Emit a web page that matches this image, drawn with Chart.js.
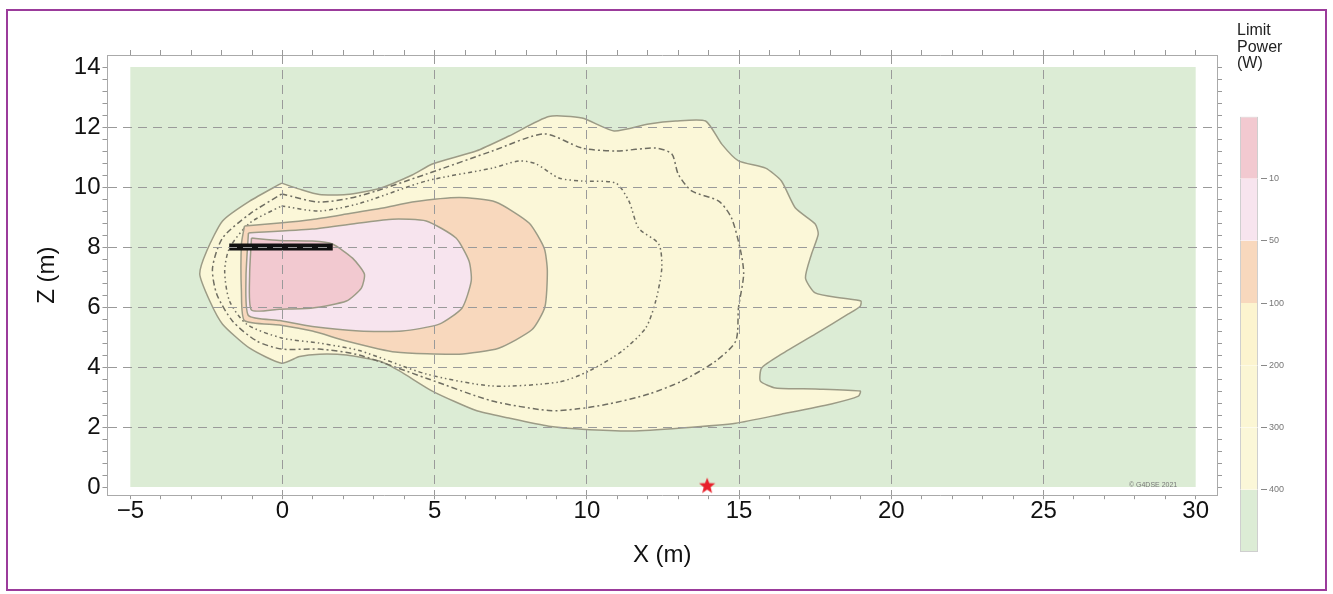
<!DOCTYPE html>
<html>
<head>
<meta charset="utf-8">
<script src="https://cdn.jsdelivr.net/npm/chart.js@4.4.1/dist/chart.umd.min.js"></script>
<style>
  html, body { margin: 0; padding: 0; background: #fff; }
  #wrap { position: relative; width: 1333px; height: 594px; overflow: hidden; }
  #frame { position: absolute; left: 6px; top: 9px; width: 1321px; height: 582px; border: 2px solid #9b3b9b; box-sizing: border-box; }
  #main { position: absolute; left: 0; top: 0; }
  #legend { position: absolute; left: 1227px; top: 10px; }
</style>
</head>
<body>
<div id="wrap">
  <div id="frame"></div>
  <canvas id="main" width="1333" height="594"></canvas>
  <canvas id="legend" width="100" height="570"></canvas>
</div>
<script>
// axis labels
const xLabels = [-5, 0, 5, 10, 15, 20, 25, 30];
const yLabels = [0, 2, 4, 6, 8, 10, 12, 14];
// colour bar levels (W)
const levels = [10, 50, 100, 200, 300, 400];

// computed domain
const field = [[-5, 0], [30, 0], [30, 14], [-5, 14]];

// contour lines, [x, z] in metres
const contour10 = [[-1.02, 8.3], [-0.1, 8.22], [0.98, 8.2], [1.64, 8.1], [2.3, 7.63], [2.69, 7.1], [2.59, 6.63],
  [2.1, 6.2], [0.98, 5.97], [-0.1, 5.93], [-1.02, 5.9], [-1.08, 7.1]];
const contour50 = [[-1.12, 8.47], [0.98, 8.6], [2.52, 8.8], [3.61, 8.93], [4.72, 8.87], [5.7, 8.3], [6.13, 7.53],
  [6.2, 6.87], [5.9, 5.97], [5.15, 5.43], [3.93, 5.2], [2.52, 5.2], [0.98, 5.35], [-0.1, 5.55], [-1.12, 5.72], [-1.2, 7.0]];
const contour100 = [[-1.25, 8.7], [-0.1, 8.8], [0.98, 8.92], [2.1, 9.1], [3.3, 9.3], [4.26, 9.5], [5.8, 9.65],
  [7.0, 9.5], [8.1, 8.8], [8.6, 7.95], [8.7, 7.2], [8.62, 6.0], [8.2, 5.25], [7.1, 4.63], [5.8, 4.43], [3.7, 4.5],
  [2.1, 4.87], [0.98, 5.2], [-0.1, 5.4], [-1.25, 5.55], [-1.35, 6.5], [-1.35, 8.1]];
const contour200 = [[-0.03, 9.37], [1.2, 9.2], [2.52, 9.45], [4.72, 10.2], [6.89, 10.63], [7.77, 10.87], [8.33, 10.77],
  [9.08, 10.3], [9.84, 10.2], [10.95, 10.13], [11.38, 9.53], [11.7, 8.63], [12.36, 8.1], [12.46, 7.3], [12.26, 6.2],
  [11.93, 5.3], [11.15, 4.53], [10.07, 3.87], [9.08, 3.5], [6.89, 3.37], [4.72, 3.77], [2.52, 4.55], [1.2, 4.8],
  [-0.03, 4.97], [-1.18, 5.43], [-1.74, 6.2], [-1.9, 7.2], [-1.74, 7.97], [-1.08, 8.8]];
const contour300 = [[-0.03, 9.77], [1.2, 9.5], [2.52, 9.7], [4.72, 10.43], [6.89, 11.2], [8.6, 11.77], [9.84, 11.3],
  [10.95, 11.2], [12.26, 11.3], [12.79, 11.1], [13.0, 10.43], [13.44, 9.87], [14.33, 9.53], [14.75, 8.97],
  [15.05, 7.87], [15.15, 7.1], [14.98, 5.97], [14.89, 4.87], [14.23, 4.2], [13.11, 3.53], [12.03, 3.1],
  [10.72, 2.77], [9.64, 2.6], [8.75, 2.55], [6.89, 2.87], [4.72, 3.63], [2.52, 4.4], [1.2, 4.6], [-0.03, 4.6],
  [-0.85, 4.87], [-1.64, 5.53], [-2.16, 6.43], [-2.3, 7.3], [-1.97, 8.3], [-1.08, 9.1]];
const contour400 = [[-0.03, 10.13], [0.56, 9.93], [1.21, 9.75], [2.1, 9.75], [3.18, 9.95], [4.26, 10.4], [4.92, 10.77],
  [6.36, 11.2], [7.44, 11.7], [8.75, 12.35], [9.84, 12.3], [10.89, 11.87], [12.03, 12.1], [12.92, 12.2], [13.9, 12.2],
  [14.43, 11.43], [14.98, 10.87], [15.87, 10.63], [16.39, 10.2], [16.85, 9.3], [17.5, 8.77], [17.6, 8.43],
  [17.38, 7.77], [17.18, 6.97], [17.5, 6.47], [18.36, 6.3], [19.0, 6.2], [18.98, 6.03], [18.59, 5.77], [17.5, 5.1],
  [16.39, 4.43], [15.74, 3.97], [15.7, 3.53], [16.2, 3.3], [17.5, 3.27], [18.98, 3.2], [18.92, 3.03], [18.03, 2.77],
  [16.39, 2.43], [14.89, 2.13], [13.11, 1.97], [11.48, 1.87], [9.84, 1.93], [8.75, 2.03], [7.44, 2.3], [6.36, 2.55],
  [4.92, 3.2], [3.84, 3.87], [3.18, 4.2], [2.1, 4.4], [1.21, 4.43], [0.56, 4.35], [-0.03, 4.13], [-1.08, 4.63],
  [-1.97, 5.43], [-2.39, 6.2], [-2.72, 7.1], [-2.49, 7.87], [-1.97, 8.87], [-1.08, 9.53]];

// source bar and receiver
const sourceBar = [[-1.75, 8.0], [1.65, 8.0]];
const receiver = [[13.95, 0.05]];
const stampText = '\u00a9 G4DSE 2021';

Chart.defaults.font.family = "'Liberation Sans', Arial, sans-serif";

const pts = a => a.map(p => ({ x: p[0], y: p[1] }));
const closed = a => pts(a.concat([a[0]]));
const fmt = v => v < 0 ? '\u2212' + (-v) : String(v);

const xTicks = [];
for (let v = -5; v <= 30; v++) xTicks.push(v);
const yTicks = [];
for (let i = 0; i <= 35; i++) yTicks.push(Math.round(i * 4) / 10);

const edge = '#9c9b86';

function area(data, color) {
  return { data: closed(data), showLine: true, fill: 'shape', backgroundColor: color, borderColor: edge,
    borderWidth: 1.5, pointRadius: 0, tension: 0.2 };
}
function dashed(data, dash) {
  return { data: closed(data), showLine: true, fill: false, borderColor: '#6f6e62', borderWidth: 1.5,
    borderDash: dash, pointRadius: 0, tension: 0.25 };
}

// filled red star for the receiver
const star = document.createElement('canvas');
star.width = 18; star.height = 18;
(function () {
  const c = star.getContext('2d');
  c.beginPath();
  for (let i = 0; i < 10; i++) {
    const r = i % 2 ? 3.6 : 8.5;
    const a = -Math.PI / 2 + i * Math.PI / 5;
    c.lineTo(9 + r * Math.cos(a), 9.5 + r * Math.sin(a));
  }
  c.closePath();
  c.fillStyle = '#e8202a';
  c.fill();
})();

const stamp = {
  id: 'stamp',
  afterDatasetsDraw(chart) {
    const { ctx, scales } = chart;
    ctx.save();
    ctx.font = "7px 'Liberation Sans', Arial, sans-serif";
    ctx.fillStyle = '#777';
    ctx.textAlign = 'center';
    ctx.textBaseline = 'middle';
    ctx.fillText(stampText, scales.x.getPixelForValue(28.6), scales.y.getPixelForValue(0.08));
    ctx.restore();
  }
};

const isMajorX = v => xLabels.includes(v) && v > -5 && v < 30;
const isMajorY = v => yLabels.some(l => Math.abs(l - v) < 1e-6) && v > 0 && v < 14;

new Chart(document.getElementById('main'), {
  type: 'scatter',
  data: {
    datasets: [
      { data: pts(receiver), pointStyle: star, pointRadius: 9, showLine: false },
      { data: pts(sourceBar), showLine: true, borderColor: '#111', borderWidth: 7, borderCapStyle: 'butt',
        pointRadius: 0, fill: false },
      area(contour10, '#f2c9d0'),
      area(contour50, '#f7e4ee'),
      area(contour100, '#f8d8bd'),
      dashed(contour300, [6, 3, 2, 3]),
      dashed(contour200, [4, 3, 1.5, 3, 1.5, 3]),
      area(contour400, '#fbf7d8'),
      { data: closed(field), showLine: true, fill: 'shape', backgroundColor: '#dcecd5', borderWidth: 0,
        borderColor: 'rgba(0,0,0,0)', pointRadius: 0 }
    ]
  },
  options: {
    responsive: false,
    animation: false,
    events: [],
    layout: { padding: { left: 33, right: 111, top: 50, bottom: 24 } },
    plugins: { legend: { display: false }, tooltip: { enabled: false } },
    scales: {
      x: {
        type: 'linear', min: -5.75, max: 30.7,
        afterBuildTicks: ax => { ax.ticks = xTicks.map(v => ({ value: v })); },
        ticks: { autoSkip: false, maxRotation: 0, padding: 0, color: '#111', font: { size: 24, lineHeight: 1 },
          callback: v => xLabels.includes(v) ? fmt(v) : '' },
        grid: { z: 1, color: c => isMajorX(c.tick && c.tick.value) ? '#9a9a9a' : 'rgba(0,0,0,0)', tickColor: '#999',
          tickLength: 4, tickBorderDash: [] },
        border: { z: 1, color: '#aaa', dash: [9, 6] },
        title: { display: true, text: 'X (m)', color: '#111', font: { size: 24 }, padding: { top: 18, bottom: 0 } }
      },
      y: {
        type: 'linear', min: -0.27, max: 14.4,
        afterBuildTicks: ax => { ax.ticks = yTicks.map(v => ({ value: v })); },
        ticks: { autoSkip: false, padding: 2, color: '#111', font: { size: 24, lineHeight: 1 },
          callback: v => yLabels.some(l => Math.abs(l - v) < 1e-6) ? String(Math.round(v)) : '' },
        grid: { z: 1, color: c => isMajorY(c.tick && c.tick.value) ? '#9a9a9a' : 'rgba(0,0,0,0)', tickColor: '#999',
          tickLength: 5, tickBorderDash: [] },
        border: { z: 1, color: '#aaa', dash: [9, 6] },
        title: { display: true, text: 'Z (m)', color: '#111', font: { size: 24 }, padding: { top: 0, bottom: 10 } }
      },
      x2: {
        type: 'linear', position: 'top', min: -5.75, max: 30.7,
        afterBuildTicks: ax => { ax.ticks = xTicks.map(v => ({ value: v })); },
        ticks: { display: false },
        grid: { drawOnChartArea: false, tickColor: '#999', tickLength: 5 },
        border: { color: '#aaa' }
      },
      y2: {
        type: 'linear', position: 'right', min: -0.27, max: 14.4,
        afterBuildTicks: ax => { ax.ticks = yTicks.map(v => ({ value: v })); },
        ticks: { display: false },
        grid: { drawOnChartArea: false, tickColor: '#999', tickLength: 5 },
        border: { color: '#aaa' }
      }
    }
  },
  plugins: [stamp]
});

// colour bar, bottom band first
const bandColors = ['#dcecd5', '#fbf7d8', '#fbf6d4', '#fcf4cf', '#f8d8bd', '#f7e4ee', '#f2c9d0'];
new Chart(document.getElementById('legend'), {
  type: 'bar',
  data: {
    labels: [''],
    datasets: bandColors.map((c, i) => ({ data: [1], backgroundColor: c, borderColor: '#cfcfcf',
      borderSkipped: false,
      borderWidth: { left: 1, right: 1, top: i === bandColors.length - 1 ? 1 : 0, bottom: i === 0 ? 1 : 0 },
      barPercentage: 0.75, categoryPercentage: 1 }))
  },
  options: {
    responsive: false,
    animation: false,
    events: [],
    layout: { padding: { left: 10, right: 43, top: 0, bottom: 28 } },
    plugins: {
      legend: { display: false },
      tooltip: { enabled: false },
      title: { display: true, text: ['Limit', 'Power', '(W)'], align: 'start', color: '#222',
        font: { size: 16, weight: 'normal', lineHeight: 1.05 }, padding: { top: 12, bottom: 44 } }
    },
    scales: {
      x: { stacked: true, display: false },
      y: {
        stacked: true, position: 'right', min: 0, max: bandColors.length,
        afterBuildTicks: ax => { ax.ticks = levels.map((l, i) => ({ value: levels.length - i })); },
        afterFit: ax => { ax.width = 23; },
        ticks: { padding: 2, color: '#777', font: { size: 9 },
          callback: v => String(levels[levels.length - v]) },
        grid: { drawOnChartArea: false, tickColor: '#888', tickLength: 6 },
        border: { display: false }
      }
    }
  }
});
</script>
</body>
</html>
